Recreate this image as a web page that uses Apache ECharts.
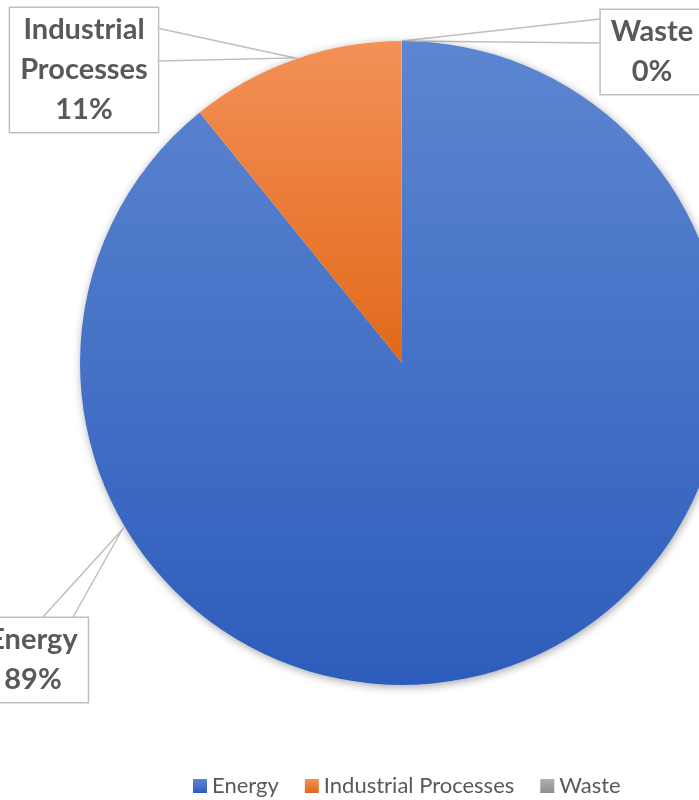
<!DOCTYPE html>
<html>
<head>
<meta charset="utf-8">
<script src="https://cdn.jsdelivr.net/npm/echarts@6/dist/echarts.min.js"></script>
<style>
  html, body { margin: 0; padding: 0; background: #ffffff; }
  #chart { width: 699px; height: 800px; }
</style>
</head>
<body>
<div id="chart"></div>
<script>
// Emission shares by sector
const categories = ['Energy', 'Industrial Processes', 'Waste'];
const shares = [89.2, 10.8, 0.02];

// Vertical gradient fills for each sector (light top, darker bottom)
const fills = [
  ['#5D86D1', '#2D5DBC'],
  ['#F39157', '#E2681A'],
  ['#B0B0B0', '#8E8E8E']
];

function grad(c) {
  return new echarts.graphic.LinearGradient(0, 0, 0, 1, [
    { offset: 0, color: c[0] },
    { offset: 1, color: c[1] }
  ]);
}

// Callout boxes: center of box and the wedge (attach, tip, attach)
const callouts = [
  { x: 33, y: 660, line: [[43, 617], [122, 530], [73, 617]] },
  { x: 84, y: 70, line: [[157, 28], [295, 58], [157, 61]] },
  { x: 652, y: 52, line: [[600, 19], [402, 41], [600, 43]] }
];

const CX = 402, CY = 363, R = 322;

const chart = echarts.init(document.getElementById('chart'), null, { renderer: 'canvas' });

chart.setOption({
  backgroundColor: '#ffffff',
  animation: false,
  legend: {
    data: categories,
    left: 193,
    top: 775,
    padding: 0,
    icon: 'rect',
    itemWidth: 14,
    itemHeight: 14,
    itemGap: 26,
    textStyle: { fontFamily: 'Lato', fontSize: 22, color: '#595959' }
  },
  series: [
    {
      // white underlay that carries the soft drop shadow
      type: 'pie',
      silent: true,
      center: [CX, CY],
      radius: [0, R],
      startAngle: 90,
      label: { show: false },
      labelLine: { show: false },
      itemStyle: {
        color: '#ffffff',
        shadowBlur: 9,
        shadowColor: 'rgba(0,0,0,0.35)',
        shadowOffsetX: 1,
        shadowOffsetY: 2
      },
      data: categories.map((n, i) => ({ name: '_' + n, value: shares[i] }))
    },
    {
      type: 'pie',
      center: [CX, CY],
      radius: [0, R],
      startAngle: 90,
      clockwise: true,
      avoidLabelOverlap: false,
      data: categories.map((n, i) => ({
        name: n,
        value: shares[i],
        itemStyle: { color: grad(fills[i]) }
      })),
      label: {
        show: true,
        position: 'outside',
        formatter: p => p.name.split(' ').join('\n') + '\n' + Math.round(p.percent) + '%',
        fontFamily: 'Lato',
        fontWeight: 'bold',
        fontSize: 29,
        lineHeight: 40,
        color: '#595959',
        align: 'center',
        backgroundColor: '#ffffff',
        borderColor: '#BFBFBF',
        borderWidth: 1.5,
        padding: [2, 10, 2, 10]
      },
      labelLine: {
        show: true,
        smooth: false,
        lineStyle: { color: '#BFBFBF', width: 1.5 }
      },
      labelLayout: p => {
        const c = callouts[p.dataIndex];
        return {
          x: c.x,
          y: c.y,
          align: 'center',
          verticalAlign: 'middle',
          labelLinePoints: c.line
        };
      },
      emphasis: { disabled: true }
    }
  ]
});
</script>
</body>
</html>
